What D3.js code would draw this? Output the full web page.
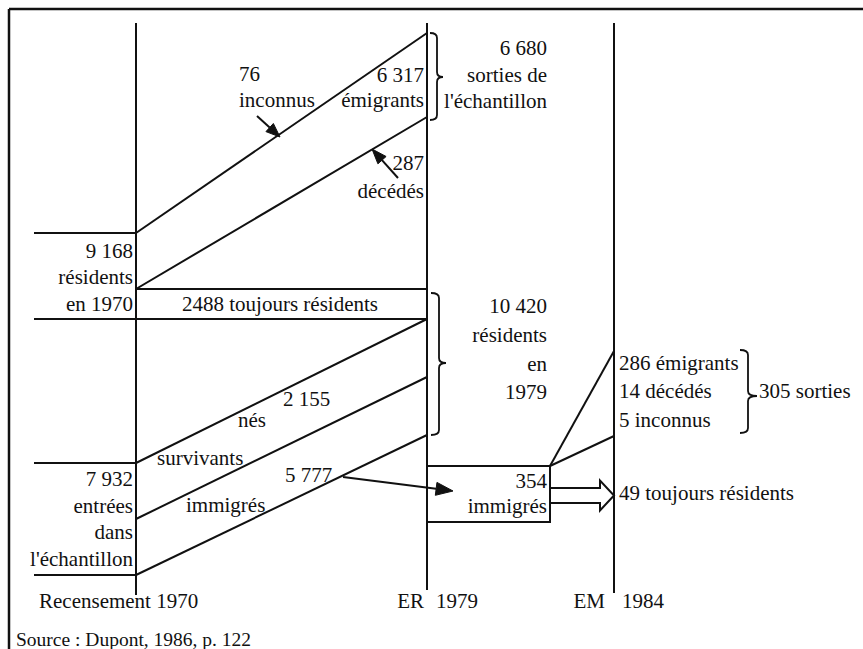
<!DOCTYPE html>
<html><head><meta charset="utf-8">
<script src="https://cdn.jsdelivr.net/npm/d3@7"></script>
<style>
html,body{margin:0;padding:0;background:#fff;}
</style></head>
<body>
<svg id="c" width="863" height="649"></svg>
<script>
// ---- data ----
const years = [1970, 1979, 1984];
const axisNames = ["Recensement", "ER", "EM"];
const stock1970 = ["9 168", "résidents", "en 1970"];
const entries1970 = ["7 932", "entrées", "dans", "l'échantillon"];
const exits1979 = ["76", "6 317", "287"];          // inconnus, émigrants, décédés
const exits1979Names = ["inconnus", "émigrants", "décédés"];
const exits1979Total = ["6 680", "sorties de", "l'échantillon"];
const stayers = ["2488 toujours résidents"];
const stock1979 = ["10 420", "résidents", "en", "1979"];
const births = ["2 155", "nés", "survivants"];
const immigrants = ["5 777", "immigrés"];
const sample1984 = ["354", "immigrés"];
const exits1984 = ["286 émigrants", "14 décédés", "5 inconnus"];
const exits1984Total = ["305 sorties"];
const stayers1984 = ["49 toujours résidents"];
const source = ["Source : Dupont, 1986, p. 122"];

// ---- scales ----
const x = d3.scaleOrdinal().domain(years).range([136, 427, 614]);
const y = d3.scaleLinear().domain([0, 572]).range([23, 595]);
// cohort boundaries (diagram units)
const lv70 = [210, 266, 296, 440, 496, 552];
const lv79 = [10, 94, 266, 296, 354, 412];

const svg = d3.select("#c");
const g = svg.append("g").attr("stroke", "#111").attr("fill", "none").attr("stroke-width", 2);

// frame
g.append("line").attr("x1", 9).attr("x2", 863).attr("y1", 9).attr("y2", 9).attr("stroke-width", 2.5);
g.append("line").attr("x1", 9).attr("x2", 9).attr("y1", 9).attr("y2", 649).attr("stroke-width", 2.5);

// vertical time lines
const vEnd = {1970: 595, 1979: 590, 1984: 593};
years.forEach(yr => g.append("line").attr("x1", x(yr)).attr("x2", x(yr))
  .attr("y1", y(0)).attr("y2", vEnd[yr]));

// horizontal ticks at 1970
[lv70[0], lv70[2], lv70[3], lv70[5]].forEach(v =>
  g.append("line").attr("x1", 34).attr("x2", x(1970)).attr("y1", y(v)).attr("y2", y(v)));

// diagonals / horizontals 1970 -> 1979
const links = [[0, 0], [1, 1], [3, 3], [4, 4], [5, 5]];
links.forEach(([a, b]) => g.append("line")
  .attr("x1", x(1970)).attr("y1", y(lv70[a])).attr("x2", x(1979)).attr("y2", y(lv79[b])));
// stayers band
g.append("line").attr("x1", x(1970)).attr("y1", y(lv70[1])).attr("x2", x(1979)).attr("y2", y(lv79[2]));
g.append("line").attr("x1", x(1970)).attr("y1", y(lv70[2])).attr("x2", x(1979)).attr("y2", y(lv79[3]));

// immigrant box at 1979
const boxR = 550, boxT = y(443), boxB = y(499);
g.append("rect").attr("x", x(1979)).attr("y", boxT).attr("width", boxR - x(1979)).attr("height", boxB - boxT);
g.append("line").attr("x1", boxR).attr("y1", boxT).attr("x2", x(1984)).attr("y2", y(328));
g.append("line").attr("x1", boxR).attr("y1", boxT).attr("x2", x(1984)).attr("y2", y(413));

// hollow arrow to 1984
const a1 = y(465), a2 = y(480), am = (a1 + a2) / 2, hx = x(1984) - 14;
g.append("path").attr("d",
  `M${boxR},${a1}L${hx},${a1}L${hx},${am - 15}L${x(1984)},${am}L${hx},${am + 15}L${hx},${a2}L${boxR},${a2}`);

// filled arrows
function arrow(x1, y1, x2, y2, len, wid) {
  const ang = Math.atan2(y2 - y1, x2 - x1);
  const bx = x2 - len * Math.cos(ang), by = y2 - len * Math.sin(ang);
  g.append("line").attr("x1", x1).attr("y1", y1).attr("x2", bx).attr("y2", by);
  const px = -Math.sin(ang) * wid / 2, py = Math.cos(ang) * wid / 2;
  g.append("path").attr("d", `M${x2},${y2}L${bx + px},${by + py}L${bx - px},${by - py}Z`)
    .attr("fill", "#111").attr("stroke-width", 1);
}
arrow(257, 116, 280, 137, 14, 11);
arrow(398, 178, 372, 149, 15, 11);
arrow(343, 477, 453, 491, 17, 13);

// braces
function brace(x0, y0, y1, xm, xt, yt) {
  const r = 5;
  g.append("path").attr("stroke-width", 1.8).attr("d",
    `M${x0},${y0}Q${xm},${y0} ${xm},${y0 + r}L${xm},${yt - r}Q${xm},${yt} ${xt},${yt}` +
    `Q${xm},${yt} ${xm},${yt + r}L${xm},${y1 - r}Q${xm},${y1} ${x0},${y1}`);
}
brace(430, 33, 120, 437, 443, 77);
brace(431, 293, 435, 439, 446, 363);
brace(740, 350, 433, 748, 757, 396);

// ---- texts ----
const T = svg.append("g")
  .attr("font-family", "'Liberation Serif', 'Times New Roman', Times, serif")
  .attr("font-size", 21).attr("fill", "#111");
function txt(s, xx, yy, anchor, size) {
  const t = T.append("text").attr("x", xx).attr("y", yy)
    .attr("font-family", "Liberation Serif")
    .attr("text-anchor", anchor || "start").text(s);
  if (size) t.attr("font-size", size);
  return t;
}
// 1970 left column
stock1970.forEach((s, i) => txt(s, 133, [258, 284, 311][i], "end"));
entries1970.forEach((s, i) => txt(s, 133, [486, 513, 539, 566][i], "end"));
// top exits
txt(exits1979[0], 239, 81); txt(exits1979Names[0], 239, 107);
txt(exits1979[1], 424, 82, "end"); txt(exits1979Names[1], 424, 107, "end");
txt(exits1979[2], 424, 170, "end"); txt(exits1979Names[2], 424, 198, "end");
exits1979Total.forEach((s, i) => txt(s, 547, [55, 82, 108][i], "end"));
// stayers
txt(stayers[0], 182, 311);
stock1979.forEach((s, i) => txt(s, 547, [313, 342, 371, 399][i], "end"));
// births / immigrants
txt(births[0], 283, 406); txt(births[1], 238, 427); txt(births[2], 157, 465);
txt(immigrants[0], 285, 482); txt(immigrants[1], 186, 512);
// 1979-1984
txt(sample1984[0], 547, 488, "end"); txt(sample1984[1], 547, 513, "end");
exits1984.forEach((s, i) => txt(s, 619, [370, 398, 427][i]));
txt(exits1984Total[0], 759, 398);
txt(stayers1984[0], 619, 500);
// axis labels
txt(axisNames[0] + " " + years[0], 39, 608);
txt(axisNames[1], 424, 608, "end"); txt(String(years[1]), 436, 608);
txt(axisNames[2], 605, 608, "end"); txt(String(years[2]), 622, 608);
txt(source[0], 16, 646, "start", 19.5);
</script>
</body></html>
